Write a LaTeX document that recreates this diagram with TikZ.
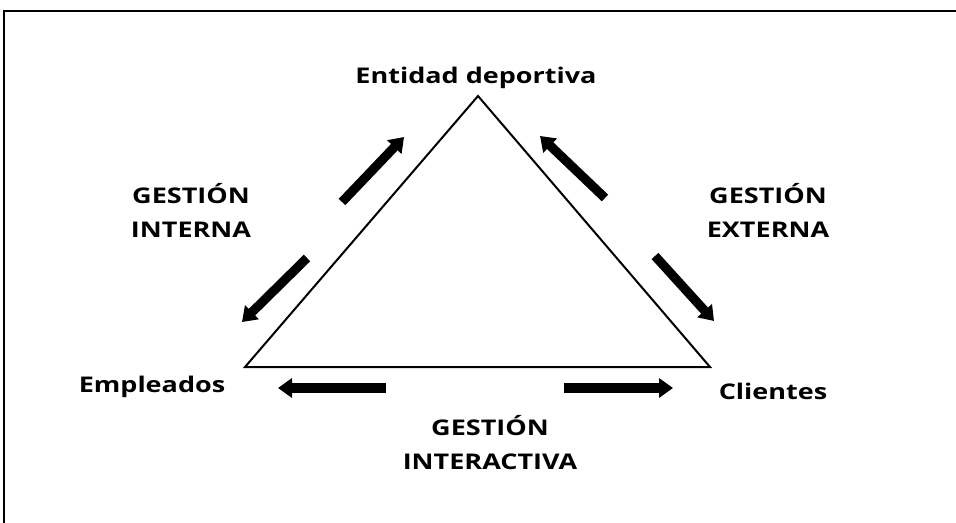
\documentclass[tikz,border=0pt]{standalone}
\usepackage{fontspec}
\setmainfont{Open Sans}[FakeStretch=1.25]
\usetikzlibrary{arrows.meta,positioning}

\begin{document}
\begin{tikzpicture}[
    x=0.5pt, y=-0.5pt,
    every node/.style={font=\fontsize{10.8}{17}\selectfont\bfseries},
    lbl/.style={align=center, inner sep=0pt},
    tri/.style={draw=black, line width=1pt, line join=miter},
    flow/.style={-{Triangle[length=7pt, width=9.5pt]}, line width=4.6pt, draw=black}
  ]
    \useasboundingbox (0,0) rectangle (956,523);
    \draw[line width=1.4pt] (956,11) -- (4,11) -- (4,523);

    \coordinate (top) at (478,96);
    \coordinate (left) at (245,367);
    \coordinate (right) at (710,367);
    \draw[tri] (top) -- (left) -- (right) -- cycle;

    \node[lbl] (entidad) at (476,78) {Entidad deportiva};
    \node[lbl] (empleados) at (152,387) {Empleados};
    \node[lbl] (clientes) at (773,391) {Clientes};
    \node[lbl] (interna) at (191,210) {GESTIÓN\\INTERNA};
    \node[lbl] (externa) at (768,210) {GESTIÓN\\EXTERNA};
    \node[lbl] (interactiva) at (490,443) {GESTIÓN\\INTERACTIVA};

    \coordinate (i1) at (342,202);
    \coordinate (i2) at (404,137);
    \coordinate (i3) at (307,258);
    \coordinate (i4) at (242,322);
    \coordinate (e1) at (605,198);
    \coordinate (e2) at (540,136);
    \coordinate (e3) at (655,256);
    \coordinate (e4) at (714,321);
    \coordinate (a1) at (386,388);
    \coordinate (a2) at (278,388);
    \coordinate (a3) at (564,388);
    \coordinate (a4) at (673,388);

    \draw[flow] (i1) -- (i2);
    \draw[flow] (i3) -- (i4);
    \draw[flow] (e1) -- (e2);
    \draw[flow] (e3) -- (e4);
    \draw[flow] (a1) -- (a2);
    \draw[flow] (a3) -- (a4);
  \end{tikzpicture}
\end{document}
